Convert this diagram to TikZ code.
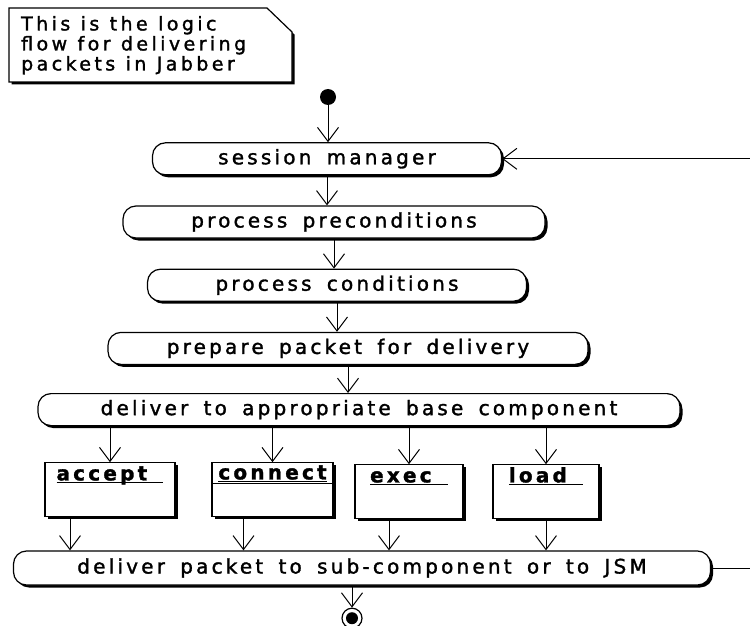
\documentclass[tikz,border=0pt]{standalone}
\usepackage{fontspec}
\usepackage{tikz}
\usetikzlibrary{positioning,shadows,arrows.meta}
\newfontfamily\umlfamily{DejaVu Sans}[LetterSpace=16, WordSpace=1.6, FakeBold=1.5]
\newfontfamily\notefamily{DejaVu Sans}[LetterSpace=18, WordSpace=1.1, FakeBold=1.5]
\newcommand{\umlfont}{\umlfamily\fontsize{20pt}{22pt}\selectfont}
\newcommand{\notefont}{\notefamily\fontsize{19pt}{20pt}\selectfont}
\newcommand{\objname}[1]{\underline{\smash{#1}}}
\tikzset{ %
  ,>={Straight Barb[length=14pt,width=21pt]}
  ,every node/.style={font=\umlfont}
  ,dropblk/.style={drop shadow={shadow xshift=2.5pt, shadow yshift=-2.5pt, fill=black, opacity=1}}
  ,activity/.style={draw, line width=1.2pt, fill=white, rounded corners=13pt, minimum height=32pt, inner sep=0, dropblk}
  ,object/.style={draw, line width=1.2pt, fill=white, minimum height=54pt, inner sep=0, dropblk}
  ,objlbl/.style={inner sep=0, text height=15pt, font=\umlfont\bfseries}
  ,notebox/.style={draw, line width=1.2pt, fill=white, dropblk}
  ,note/.style={anchor=north west, align=left, inner xsep=12pt, inner ysep=0, minimum height=74pt, font=\notefont}
  ,start/.style={circle, fill=black, minimum size=16pt, inner sep=0}
  ,stop/.style={draw, circle, line width=1.2pt, minimum size=20pt, inner sep=0}
  ,flow/.style={->, line width=1pt}
}
\begin{document}
\begin{tikzpicture}[x=1pt, y=-1pt]
  \useasboundingbox (0,0) rectangle (750,626);
  % note
  \filldraw[notebox] (9,8) -- (267,8) -- (292,32) -- (292,82) -- (9,82) -- cycle;
  \node[note] (note) at (9,8) {This is the logic\\flow for delivering\\packets in Jabber};
  % activities
  \draw
  node[start] (init) at (328,97) {}
  node[activity, minimum width=349pt, below=37pt of init, xshift=-1pt] (sm) {session manager}
  node[activity, minimum width=422pt, below=30pt of sm, xshift=7pt] (pp) {process preconditions}
  node[activity, minimum width=379pt, below=30pt of pp, xshift=3pt] (pc) {process conditions}
  node[activity, minimum width=480pt, below=30pt of pc, xshift=11pt] (ppd) {prepare packet for delivery}
  node[activity, minimum width=642pt, below=28pt of ppd, xshift=11pt] (dab) {deliver to appropriate base component}
  node[object, minimum width=130pt, below=36pt of dab, xshift=-249pt] (acc) {}
  node[object, minimum width=121pt, below=36pt of dab, xshift=-86.5pt] (con) {}
  node[object, minimum width=108pt, below=38pt of dab, xshift=50pt] (exe) {}
  node[object, minimum width=106pt, below=38pt of dab, xshift=187pt] (lod) {}
  node[objlbl, below=3pt of acc.north] {\objname{accept~}}
  node[objlbl, below=2pt of con.north] {\objname{connect}}
  node[objlbl, below=3pt of exe.north] {\objname{exec~}}
  node[objlbl, below=3pt of lod.north] {\objname{load~}}
  node[activity, minimum width=697pt, minimum height=34pt, below=33pt of con, xshift=89.5pt] (dps) {deliver packet to sub-component or to JSM}
  node[stop, below=22pt of dps, xshift=-10pt] (end) {};
  \fill (end.center) circle (6pt);
  \draw[line width=1.2pt] ([yshift=-21pt]con.north west) -- ([yshift=-21pt]con.north east);
  % flows
  \coordinate (out) at (750,568);
  \coordinate (back) at (750,157);
  \draw[flow] (init) -- (init |- sm.north);
  \draw[flow] (sm.south) -- (sm.south |- pp.north);
  \draw[flow] (pp.south) -- (pp.south |- pc.north);
  \draw[flow] (pc.south) -- (pc.south |- ppd.north);
  \draw[flow] (ppd.south) -- (ppd.south |- dab.north);
  \foreach \o in {acc,con,exe,lod}
    \draw[flow] (\o.north |- dab.south) -- (\o.north);
  \foreach \o/\s in {acc/-40,con/-29,exe/-20,lod/0}
    \draw[flow] ([xshift=\s pt]\o.south) -- ([xshift=\s pt]\o.south |- dps.north);
  \draw[flow] (end |- dps.south) -- (end.north);
  \draw[line width=1pt] (dps.east |- out) -- (out);
  \draw[flow] (sm.east -| back) -- (sm.east);
\end{tikzpicture}
\end{document}
